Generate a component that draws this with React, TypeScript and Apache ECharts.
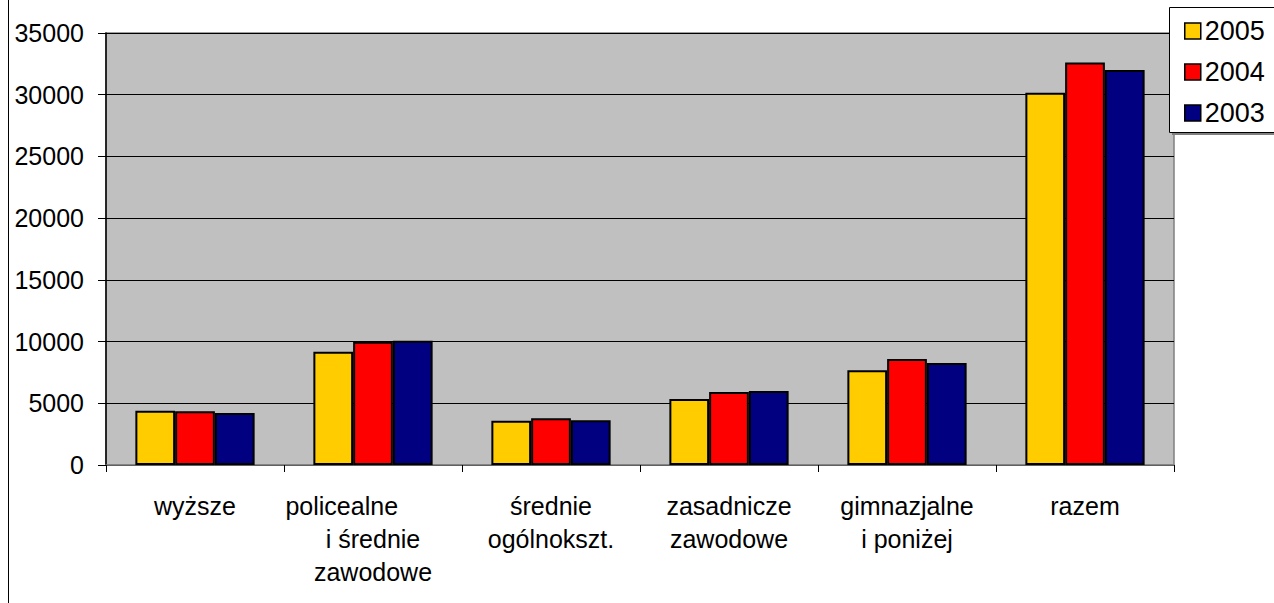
import React, { useEffect, useRef } from "react";
import * as echarts from "echarts";

const categories = [
  "wyższe",
  "policealne         \ni średnie\nzawodowe",
  "średnie\nogólnokszt.",
  "zasadnicze\nzawodowe",
  "gimnazjalne\ni poniżej",
  "razem",
];
const seriesNames = ["2005", "2004", "2003"];
const values2005 = [4400, 9180, 3590, 5350, 7670, 30150];
const values2004 = [4350, 9990, 3780, 5910, 8590, 32600];
const values2003 = [4210, 10070, 3620, 5990, 8260, 32000];
const colors = ["#FFCC00", "#FF0000", "#000080"];
const yTicks = { min: 0, max: 35000, interval: 5000 };

export default function App() {
  const ref = useRef<HTMLDivElement>(null);
  useEffect(() => {
    if (!ref.current) return;
    const chart = echarts.init(ref.current, undefined, { renderer: "svg" });
    const font = "'Liberation Sans', Arial, sans-serif";
    const data = [values2005, values2004, values2003];
    chart.setOption({
      animation: false,
      backgroundColor: "#ffffff",
      textStyle: { fontFamily: font },
      graphic: [
        {
          type: "rect",
          z: -10,
          shape: { x: 8.5, y: -5, width: 1300, height: 620 },
          style: { fill: "none", stroke: "#000", lineWidth: 1 },
        },
        {
          type: "rect",
          z: 5,
          shape: { x: 1172, y: 10, width: 110, height: 125 },
          style: { fill: "#808080" },
        },
        {
          type: "rect",
          z: 6,
          shape: { x: 1169.5, y: 7.5, width: 110, height: 125 },
          style: { fill: "#fff", stroke: "#000", lineWidth: 1 },
        },
      ],
      grid: {
        left: 106,
        top: 33,
        right: 100,
        bottom: 138,
        show: true,
        backgroundColor: "#C0C0C0",
        borderColor: "#808080",
        borderWidth: 1.5,
      },
      legend: {
        orient: "vertical",
        left: 1179,
        top: 12,
        z: 20,
        itemWidth: 16,
        itemHeight: 16,
        itemGap: 13,
        icon: "rect",
        data: seriesNames,
        itemStyle: { borderColor: "#000", borderWidth: 1.5 },
        textStyle: { fontSize: 27, color: "#000", fontFamily: font, lineHeight: 28, padding: [0, 0, 0, -1] },
      },
      xAxis: {
        type: "category",
        data: categories,
        axisLine: { show: true, lineStyle: { color: "#808080", width: 1.5 } },
        axisTick: { show: true, length: 7, lineStyle: { color: "#000" } },
        axisLabel: {
          interval: 0,
          color: "#000",
          fontSize: 25,
          lineHeight: 33,
          margin: 24,
          fontFamily: font,
          align: "center",
        },
      },
      yAxis: {
        type: "value",
        min: yTicks.min,
        max: yTicks.max,
        interval: yTicks.interval,
        axisLine: { show: true, lineStyle: { color: "#000", width: 1.5 } },
        axisTick: { show: true, length: 8, lineStyle: { color: "#000" } },
        splitLine: { show: true, lineStyle: { color: "#000", width: 1 } },
        axisLabel: {
          color: "#000",
          fontSize: 25,
          margin: 22,
          fontFamily: font,
          formatter: (v: number) => String(v),
        },
      },
      series: seriesNames.map((name, i) => ({
        name,
        type: "bar",
        data: data[i],
        barGap: "0%",
        barCategoryGap: "33%",
        itemStyle: { color: colors[i], borderColor: "#000", borderWidth: 2 },
      })),
    });
    return () => chart.dispose();
  }, []);
  return (
    <div
      ref={ref}
      style={{ position: "absolute", left: 0, top: 0, width: 1274, height: 603 }}
    />
  );
}
